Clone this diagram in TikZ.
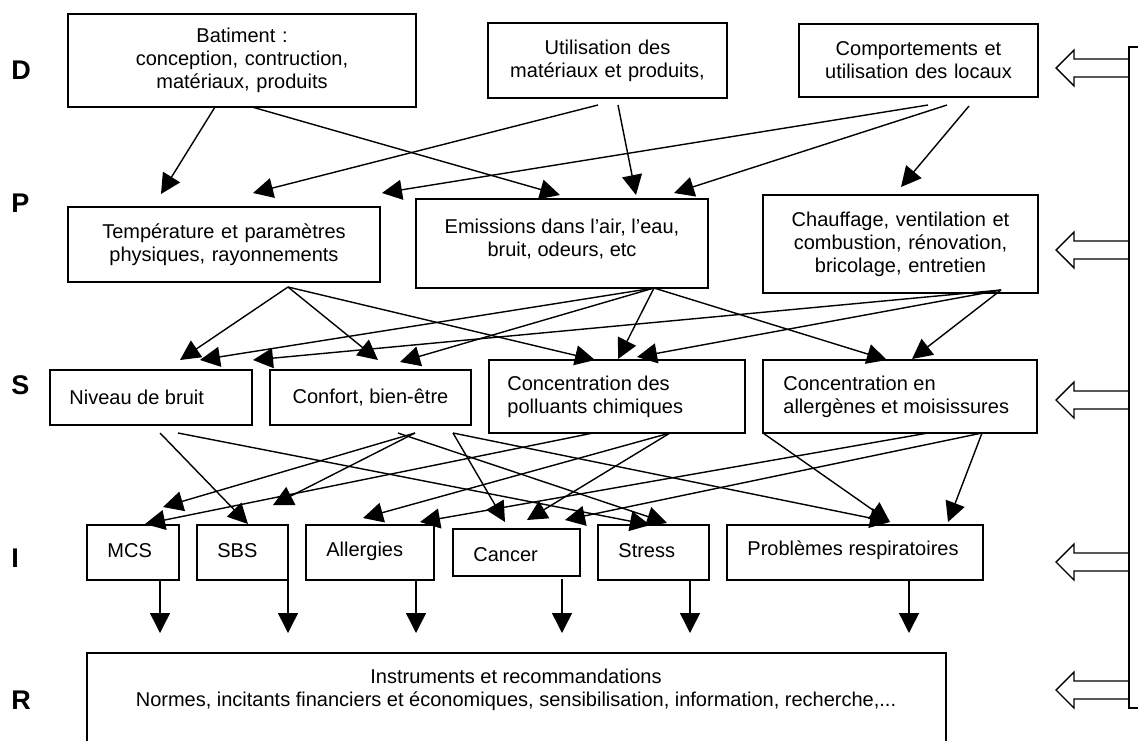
\documentclass[tikz,border=0pt]{standalone}
\usepackage{fontspec}
\setmainfont{Liberation Sans}
\usetikzlibrary{arrows.meta}
\newcommand\linkarrow[4]{\draw[arr] ([shift={(#2)}]#1.south west) -- ([shift={(#4)}]#3.north west);}
\newcommand\resarrow[3]{\draw[arr] ([shift={(#2)}]#1.south west) -- ([shift={(#3)}]resp.north west);}
\newcommand\hollowarrow[1]{\draw[hol] (1129,#1-9) -- (1074,#1-9) -- (1074,#1-18) -- (1056,#1) -- (1074,#1+18) -- (1074,#1+9) -- (1129,#1+9);}
\begin{document}
\begin{tikzpicture}[x=0.5pt,y=-0.5pt,
  box/.style={draw,line width=0.7pt,inner sep=0pt,outer sep=0pt,anchor=north west,font=\fontsize{10}{11.5}\selectfont,align=center},
  txt/.style={inner sep=0pt,font=\fontsize{10}{11.5}\selectfont,align=left,anchor=west},
  arr/.style={line width=0.7pt,-{Triangle[length=10pt,width=10pt]}},
  hol/.style={line width=0.7pt,line join=miter},
  lvl/.style={anchor=base west,inner sep=0pt,font=\fontsize{13.5}{15}\selectfont\bfseries}]
\useasboundingbox (0,0) rectangle (1138,740);

% level letters
\node[lvl] (lD) at (11,79) {D};
\node[lvl] (lP) at (11,212) {P};
\node[lvl] (lS) at (11,394) {S};
\node[lvl] (lI) at (11,567) {I};
\node[lvl] (lR) at (11,709) {R};

% D row
\node[box,minimum width=174pt,minimum height=46.5pt,text width=174pt] (bat) at (68,14) {Batiment :\\conception, contruction,\\matériaux, produits};
\node[box,minimum width=119.5pt,minimum height=37.5pt,text width=119.5pt] (util) at (488,23) {Utilisation des\\matériaux et produits,};
\node[box,minimum width=119.5pt,minimum height=36.5pt,text width=119.5pt] (comp) at (799,24) {Comportements et\\utilisation des locaux};

% P row
\node[box,minimum width=156pt,minimum height=37.5pt,text width=156pt] (temp) at (68,207) {Température et paramètres\\physiques, rayonnements};
\node[box,minimum width=146pt,minimum height=44.5pt] (emis) at (416,199) {};
\node[txt,anchor=center,align=center] (emisT) at (562,239) {Emissions dans l’air, l’eau,\\bruit, odeurs, etc};
\node[box,minimum width=137.5pt,minimum height=49pt,text width=137.5pt] (chauf) at (763,195) {Chauffage, ventilation et\\combustion, rénovation,\\bricolage, entretien};

% S row
\node[box,minimum width=101pt,minimum height=27.5pt] (niv) at (50,370) {};
\node[txt] (nivT) at ([xshift=9.5pt]niv.west) {Niveau de bruit};
\node[box,minimum width=100.5pt,minimum height=27.5pt] (conf) at (270,370) {Confort, bien-être};
\node[box,minimum width=128pt,minimum height=36.5pt] (poll) at (489,360) {};
\node[txt] (pollT) at ([xshift=9pt]poll.west) {Concentration des\\polluants chimiques};
\node[box,minimum width=137pt,minimum height=36.5pt] (allg) at (763,360) {};
\node[txt] (allgT) at ([xshift=10pt]allg.west) {Concentration en\\allergènes et moisissures};

% I row
\node[box,minimum width=46pt,minimum height=27.5pt] (mcs) at (87,525) {};
\node[txt] (mcsT) at ([xshift=10pt,yshift=1pt]mcs.west) {MCS};
\node[box,minimum width=45.5pt,minimum height=27.5pt] (sbs) at (197,525) {};
\node[txt] (sbsT) at ([xshift=10pt,yshift=1pt]sbs.west) {SBS};
\node[box,minimum width=64pt,minimum height=27.5pt] (allerg) at (306,525) {};
\node[txt] (allergT) at ([xshift=10pt,yshift=0.5pt]allerg.west) {Allergies};
\node[box,minimum width=63.5pt,minimum height=23.5pt] (cancer) at (453,529) {};
\node[txt] (cancerT) at ([xshift=10pt,yshift=-1pt]cancer.west) {Cancer};
\node[box,minimum width=55.5pt,minimum height=27.5pt] (stress) at (598,525) {};
\node[txt] (stressT) at ([xshift=10pt,yshift=1pt]stress.west) {Stress};
\node[box,minimum width=128pt,minimum height=27.5pt] (prob) at (727,525) {};
\node[txt] (probT) at ([xshift=10pt,yshift=1pt]prob.west) {Problèmes respiratoires};

% R row
\node[box,minimum width=429.5pt,minimum height=60pt] (resp) at (87,653) {};
\node[txt,anchor=center,align=center] (respT) at (516,690) {Instruments et recommandations\\Normes, incitants financiers et économiques, sensibilisation, information, recherche,...};

% D -> P
\linkarrow{bat}{147,0}{temp}{93,-13}
\linkarrow{bat}{184,0}{emis}{144,-4}
\linkarrow{util}{110,7}{temp}{185,-14}
\linkarrow{util}{130,7}{emis}{220,-4}
\linkarrow{comp}{129,8}{temp}{314,-14}
\linkarrow{comp}{148,8}{emis}{258,-6}
\linkarrow{comp}{170,9}{chauf}{138,-8}

% P -> S
\linkarrow{temp}{220,5}{niv}{130,-10}
\linkarrow{temp}{220,5}{conf}{108,-10}
\linkarrow{temp}{220,5}{poll}{106,0}
\linkarrow{emis}{238,0}{niv}{150,-10}
\linkarrow{emis}{238,0}{conf}{130,-8}
\linkarrow{emis}{238,0}{poll}{129,-1}
\linkarrow{emis}{238,0}{allg}{124,0}
\linkarrow{chauf}{238,-3}{niv}{203,-10}
\linkarrow{chauf}{238,-3}{poll}{148,-3}
\linkarrow{chauf}{238,-3}{allg}{149,-1}

% S -> I
\linkarrow{niv}{110,8}{sbs}{51,-1}
\linkarrow{niv}{128,8}{stress}{52,0}
\linkarrow{conf}{145,8}{mcs}{76,-18}
\linkarrow{conf}{145,8}{sbs}{76,-20}
\linkarrow{conf}{128,8}{stress}{69,-2}
\linkarrow{conf}{183,8}{cancer}{52,-7}
\linkarrow{conf}{183,8}{prob}{163,-3}
\linkarrow{poll}{104,0}{mcs}{58,-1}
\linkarrow{poll}{181,0}{allerg}{57,-7}
\linkarrow{poll}{181,0}{cancer}{74,-9}
\linkarrow{allg}{0,0}{prob}{163,-3}
\linkarrow{allg}{165,0}{allerg}{114,-3}
\linkarrow{allg}{219,0}{cancer}{112,-9}
\linkarrow{allg}{219,0}{prob}{221,-3}

% I -> R
\resarrow{mcs}{73,0}{73,-20}
\resarrow{sbs}{91,0}{201,-20}
\resarrow{allerg}{110,0}{329,-20}
\resarrow{cancer}{109,3}{475,-20}
\resarrow{stress}{92,0}{603,-20}
\resarrow{prob}{182,0}{822,-20}

% feedback bracket and hollow arrows
\coordinate (brT) at (1129,47);
\coordinate (brB) at (1129,708);
\draw[hol] (1138,47) -- (brT) -- (brB) -- (1138,708);
\hollowarrow{68}
\hollowarrow{250}
\hollowarrow{400}
\hollowarrow{562}
\hollowarrow{690}
\end{tikzpicture}
\end{document}
